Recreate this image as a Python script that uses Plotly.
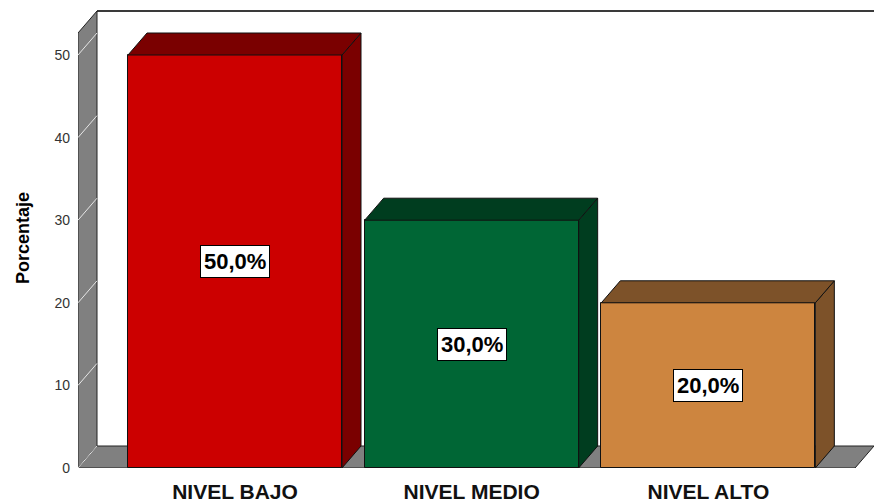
import plotly.graph_objects as go

# Data
categories = ["NIVEL BAJO", "NIVEL MEDIO", "NIVEL ALTO"]
porcentajes = [50.0, 30.0, 20.0]
y_ticks = [0, 10, 20, 30, 40, 50]

# Styling
front_colors = ["#CC0000", "#006635", "#CD853F"]
shade_colors = ["#7A0000", "#003D1F", "#7D5229"]
wall_gray = "#808080"
FONT = "Arial, Liberation Sans, sans-serif"

W, H = 874, 502
plot_left, plot_right, plot_top, plot_bottom = 78, 874, 8, 468
px_per_unit_y = 413 / 50.0
px_per_cat = 236.67
first_center_px = 235

y_max = (plot_bottom - plot_top) / px_per_unit_y
x_min = -(first_center_px - plot_left) / px_per_cat
x_max = (plot_right - first_center_px) / px_per_cat

# depth offset of the 3D extrusion, in axis units
dx = 19 / px_per_cat
dy = 22 / px_per_unit_y
wall_top = (plot_bottom - 11) / px_per_unit_y
bar_w = 214 / px_per_cat

xs = list(range(len(categories)))

fig = go.Figure()

shapes = []
# back wall
shapes.append(dict(type="rect", xref="x", yref="y", x0=x_min + dx, x1=x_max + 0.05,
                   y0=dy, y1=wall_top, fillcolor="white", line=dict(width=0), layer="below"))
shapes.append(dict(type="line", xref="x", yref="y", x0=x_min + dx, x1=x_max + 0.05,
                   y0=wall_top, y1=wall_top, line=dict(color="#3a3a3a", width=2), layer="below"))
# left wall
shapes.append(dict(type="path", xref="x", yref="y",
                   path=f"M {x_min},{0} L {x_min},{wall_top - dy} L {x_min + dx},{wall_top} "
                        f"L {x_min + dx},{dy} Z",
                   fillcolor=wall_gray, line=dict(color="#222222", width=1), layer="below"))
# floor
shapes.append(dict(type="path", xref="x", yref="y",
                   path=f"M {x_min},{0} L {x_max - dx},{0} L {x_max},{dy} L {x_min + dx},{dy} Z",
                   fillcolor=wall_gray, line=dict(color="#222222", width=1), layer="below"))
# tick lines across the left wall
for t in y_ticks:
    shapes.append(dict(type="line", xref="x", yref="y", x0=x_min, y0=t, x1=x_min + dx, y1=t + dy,
                       line=dict(color="#e6e6e6", width=1), layer="below"))

# front faces
fig.add_trace(go.Bar(x=xs, y=porcentajes, width=bar_w,
                     marker=dict(color=front_colors, line=dict(color="#111111", width=1)),
                     hoverinfo="skip", showlegend=False))

# top and side faces
for i, v in enumerate(porcentajes):
    l, r = xs[i] - bar_w / 2, xs[i] + bar_w / 2
    top_x = [l, l + dx, r + dx, r, l]
    top_y = [v, v + dy, v + dy, v, v]
    side_x = [r, r + dx, r + dx, r, r]
    side_y = [0, dy, v + dy, v, 0]
    for px_, py_ in ((side_x, side_y), (top_x, top_y)):
        fig.add_trace(go.Scatter(x=px_, y=py_, mode="lines", fill="toself",
                                 fillcolor=shade_colors[i],
                                 line=dict(color="#111111", width=1),
                                 hoverinfo="skip", showlegend=False))

annotations = []
for i, v in enumerate(porcentajes):
    annotations.append(dict(x=xs[i], y=v / 2, xref="x", yref="y", showarrow=False,
                            text=f"{v:.1f}".replace(".", ",") + "%",
                            font=dict(family=FONT, size=22, color="black", weight="bold"),
                            bgcolor="white", bordercolor="black", borderwidth=1, borderpad=3))

fig.update_layout(
    width=W, height=H,
    margin=dict(l=plot_left, r=W - plot_right, t=plot_top, b=H - plot_bottom),
    paper_bgcolor="white", plot_bgcolor="white",
    shapes=shapes, annotations=annotations,
    bargap=0,
    xaxis=dict(range=[x_min, x_max], tickvals=xs, ticktext=categories,
               showgrid=False, zeroline=False, showline=False, ticks="",
               ticklabelstandoff=9,
               tickfont=dict(family=FONT, size=21, color="#111111", weight="bold")),
    yaxis=dict(range=[0, y_max], tickvals=y_ticks, showgrid=False, zeroline=False,
               showline=False, ticks="", ticklabelstandoff=7,
               tickfont=dict(family=FONT, size=14, color="#333333"),
               title=dict(text="Porcentaje", standoff=20,
                          font=dict(family=FONT, size=18, color="black", weight="bold"))),
)

fig.write_html("out.html")
